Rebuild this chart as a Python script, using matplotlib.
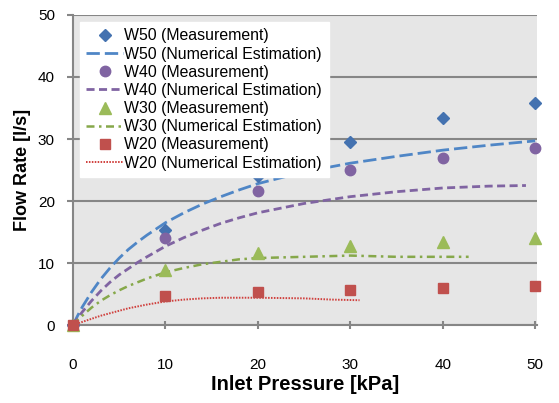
import matplotlib.pyplot as plt

plt.rcParams['font.family'] = ['Liberation Sans', 'DejaVu Sans']

# measurement points
pressure = [0, 10, 20, 30, 40, 50]
w50_meas = [0, 15.3, 24.0, 29.5, 33.4, 35.8]
w40_meas = [0, 14.0, 21.6, 25.0, 27.0, 28.6]
w30_meas = [0, 8.9, 11.6, 12.8, 13.4, 14.1]
w20_meas = [0, 4.7, 5.4, 5.7, 6.0, 6.3]

# numerical estimation curves
w50_x = [0, 0.5, 1, 2, 3, 4, 5, 6, 7, 8, 10, 12, 14, 16, 18, 20, 25, 30, 35, 40, 45, 50]
w50_est = [0, 1.5, 2.9, 5.3, 7.4, 9.2, 10.8, 12.2, 13.4, 14.5, 16.5, 18.1, 19.5, 20.7,
           21.8, 22.8, 24.7, 26.1, 27.2, 28.2, 29.0, 29.7]
w40_x = [0, 0.5, 1, 2, 3, 4, 5, 6, 7, 8, 10, 12, 14, 16, 18, 20, 25, 30, 35, 40, 45, 49]
w40_est = [0, 1.1, 2.1, 3.9, 5.5, 6.9, 8.1, 9.1, 10.1, 11.0, 12.7, 14.1, 15.3, 16.4,
           17.3, 18.1, 19.6, 20.7, 21.5, 22.1, 22.4, 22.5]
w30_x = [0, 0.5, 1, 2, 3, 4, 5, 6, 7, 8, 10, 12, 14, 16, 18, 20, 25, 30, 35, 40, 42.8]
w30_est = [0, 0.8, 1.5, 2.8, 3.9, 4.8, 5.6, 6.3, 6.9, 7.5, 8.5, 9.2, 9.8, 10.2,
           10.6, 10.8, 11.0, 11.2, 11.0, 11.0, 11.0]
w20_x = [0, 1, 2, 3, 4, 5, 6, 7, 8, 10, 12, 14, 16, 18, 20, 25, 28, 31]
w20_est = [0, 0.5, 1.0, 1.5, 1.9, 2.3, 2.7, 3.0, 3.3, 3.8, 4.1, 4.3, 4.4, 4.4,
           4.4, 4.3, 4.1, 4.0]

fig = plt.figure(figsize=(5.59, 4.03), dpi=100)
ax = fig.add_axes([0.1306, 0.1935, 0.8301, 0.7693])
ax.set_facecolor('#e6e6e6')

ax.plot(pressure, w50_meas, linestyle='none', marker='D', markersize=6.5, color='#4472b0',
        clip_on=False, zorder=4, label='W50 (Measurement)')
ax.plot(w50_x, w50_est, color='#4f86c6', linewidth=2.0, dashes=(4.8, 1.8),
        label='W50 (Numerical Estimation)')
ax.plot(pressure, w40_meas, linestyle='none', marker='o', markersize=7.5, color='#8064a2',
        clip_on=False, zorder=4, label='W40 (Measurement)')
ax.plot(w40_x, w40_est, color='#8064a2', linewidth=2.0, dashes=(2.9, 1.6),
        label='W40 (Numerical Estimation)')
ax.plot(pressure, w30_meas, linestyle='none', marker='^', markersize=8, color='#9bbb59',
        clip_on=False, zorder=4, label='W30 (Measurement)')
ax.plot(w30_x, w30_est, color='#86a84a', linewidth=1.8, dashes=(3.2, 1.8, 1.0, 1.8),
        label='W30 (Numerical Estimation)')
ax.plot(pressure, w20_meas, linestyle='none', marker='s', markersize=7.5, color='#c0504d',
        clip_on=False, zorder=4, label='W20 (Measurement)')
ax.plot(w20_x, w20_est, color='#d0403d', linewidth=1.4, dashes=(0.8, 0.7),
        label='W20 (Numerical Estimation)')

ax.set_xlim(0, 50.2)
ax.set_ylim(0, 50)
ax.set_xticks([0, 10, 20, 30, 40, 50])
ax.set_yticks([0, 10, 20, 30, 40, 50])
ax.grid(axis='y', color='#868686', linewidth=1.5)
ax.set_axisbelow(True)
for s in ['top', 'right']:
    ax.spines[s].set_visible(False)
for s in ['left', 'bottom']:
    ax.spines[s].set_color('#868686')
    ax.spines[s].set_linewidth(1.5)
ax.tick_params(axis='y', direction='out', length=4, width=1.5, color='#868686', pad=9, labelsize=11)
ax.tick_params(axis='x', direction='inout', length=6, width=1.5, color='#868686', pad=21, labelsize=11)

ax.set_xlabel('Inlet Pressure [kPa]', fontsize=14.5, fontweight='bold', labelpad=2)
ax.set_ylabel('Flow Rate [l/s]', fontsize=13, fontweight='bold', labelpad=5)

leg = ax.legend(loc='upper left', fontsize=11.4, frameon=True, fancybox=False,
                labelspacing=0.2, handlelength=2.3, handletextpad=0.1,
                borderpad=0.4, borderaxespad=0.45)
leg.get_frame().set_facecolor('white')
leg.get_frame().set_edgecolor('white')
leg.get_frame().set_alpha(1)

plt.savefig('out.png', dpi=100)
